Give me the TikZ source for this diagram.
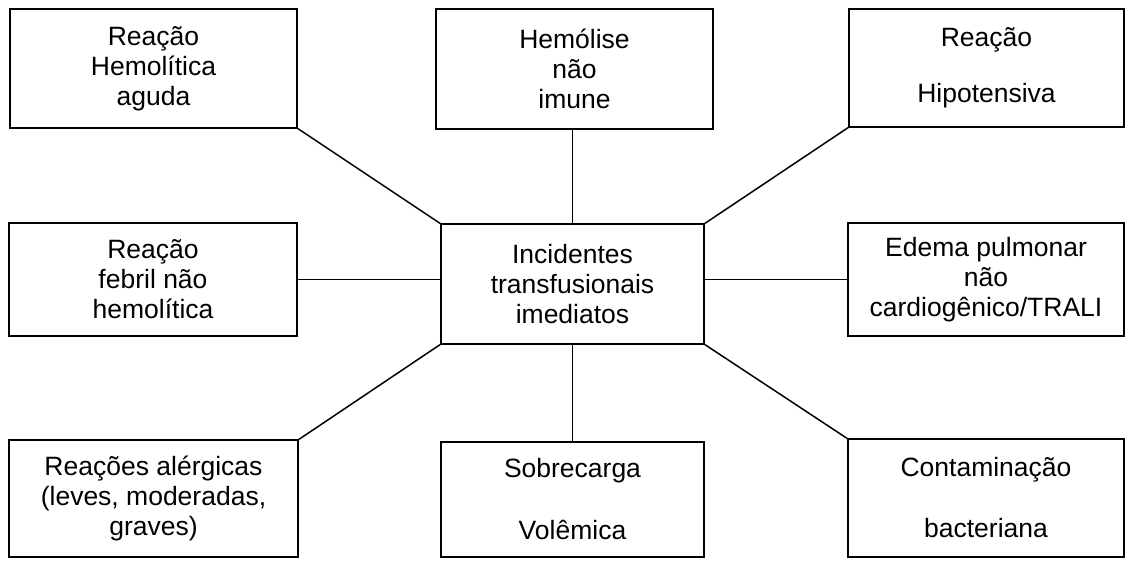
\documentclass[tikz,border=0pt]{standalone}
\usepackage{fontspec}
\setmainfont{Liberation Sans}
\begin{document}
\begin{tikzpicture}[x=1pt,y=-1pt,
  box/.style={draw=black, line width=1.5pt, inner sep=0pt, outer sep=0pt,
    align=center, font=\fontsize{26.5}{30}\selectfont},
  link/.style={draw=black, line width=1.5pt}]
\useasboundingbox (0,0) rectangle (1127,560);
\node[box, minimum width=287, minimum height=119] (TL) at (153.5,68.5) {Reação\\Hemolítica\\aguda};
\node[box, minimum width=277, minimum height=120] (TM) at (574.5,69) {Hemólise\\não\\imune};
\node[box, minimum width=275, minimum height=118] (TR) at (986.5,68) {\raisebox{3pt}{\begin{tabular}{@{}c@{}}Reação\\[26pt]Hipotensiva\end{tabular}}};
\node[box, minimum width=288, minimum height=113] (ML) at (153,279.5) {Reação\\febril não\\hemolítica};
\node[box, minimum width=263, minimum height=120] (C) at (572.5,284) {Incidentes\\transfusionais\\imediatos};
\node[box, minimum width=276, minimum height=113] (MR) at (986,279.5) {Edema pulmonar\\não\\cardiogênico/TRALI};
\node[box, minimum width=289, minimum height=117] (BL) at (153.5,498.5) {Reações alérgicas\\(leves, moderadas,\\graves)};
\node[box, minimum width=263, minimum height=115] (BM) at (572.5,499.5) {Sobrecarga\\[32pt]Volêmica};
\node[box, minimum width=276, minimum height=118] (BR) at (986,498) {Contaminação\\[31pt]bacteriana};
\draw[link] (TL.south east) -- (C.north west);
\draw[link] (C.north) -- (C.north |- TM.south);
\draw[link] (TR.south west) -- (C.north east);
\draw[link] (ML.east) -- (ML.east -| C.west);
\draw[link] (C.east |- MR.west) -- (MR.west);
\draw[link] (BL.north east) -- (C.south west);
\draw[link] (C.south) -- (C.south |- BM.north);
\draw[link] (C.south east) -- (BR.north west);
\end{tikzpicture}
\end{document}
